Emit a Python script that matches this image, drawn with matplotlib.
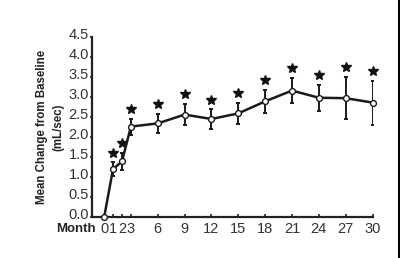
import matplotlib
matplotlib.use("Agg")
import matplotlib.pyplot as plt
import matplotlib.transforms as mtransforms
from matplotlib.lines import Line2D

plt.rcParams['font.family'] = ['Liberation Sans', 'DejaVu Sans']

# months and mean change from baseline (mL/sec) with error
months = [0, 1, 2, 3, 6, 9, 12, 15, 18, 21, 24, 27, 30]
mean_change = [0.0, 1.21, 1.40, 2.27, 2.35, 2.57, 2.46, 2.60, 2.90, 3.17, 2.99, 2.98, 2.87]
error = [0.0, 0.17, 0.22, 0.20, 0.23, 0.26, 0.24, 0.26, 0.28, 0.32, 0.33, 0.53, 0.55]
significant = [False] + [True] * 12
y_ticks = [0.0, 0.5, 1.0, 1.5, 2.0, 2.5, 3.0, 3.5, 4.0, 4.5]

fig = plt.figure(figsize=(4.0, 2.58), dpi=100)
ax = fig.add_axes([0.23, 0.157, 0.7025, 0.6984])

ax.errorbar(months[1:], mean_change[1:], yerr=error[1:], fmt='none',
            ecolor='#1a1a1a', elinewidth=1.4, capsize=1.6, capthick=1.4, zorder=2)
ax.plot(months, mean_change, color='#1a1a1a', lw=1.8, marker='o', ms=4.2,
        mfc='white', mec='#1a1a1a', mew=1.0, zorder=3, clip_on=False)

# stars above the upper error bar
star_tr = mtransforms.offset_copy(ax.transData, fig=fig, x=0, y=7, units='points')
sx = [m for m, s in zip(months, significant) if s]
sy = [v + e for v, e, s in zip(mean_change, error, significant) if s]
ax.plot(sx, sy, ls='none', marker='*', ms=7, color='#111111', transform=star_tr,
        clip_on=False)

ax.set_xlim(-1.35, 30.05)
ax.set_ylim(0, 4.5)
ax.set_xticks(months)
ax.set_xticklabels([str(m) for m in months])
ax.set_yticks(y_ticks)
ax.set_yticklabels([f"{t:.1f}" for t in y_ticks])

for side in ['top', 'right']:
    ax.spines[side].set_visible(False)
for side in ['left', 'bottom']:
    ax.spines[side].set_linewidth(1.6)
    ax.spines[side].set_color('#222222')

ax.tick_params(axis='y', direction='out', length=1.5, width=1.2, pad=0.8,
               labelsize=10.5, labelcolor='#333333', color='#222222')
ax.tick_params(axis='x', direction='in', length=2.5, width=1.2, pad=3.2,
               labelsize=10.5, labelcolor='#333333', color='#222222')

# y tick labels sit a little above their ticks in the original
lift = mtransforms.ScaledTranslation(0, 3 / 72, fig.dpi_scale_trans)
for lab in ax.get_yticklabels():
    lab.set_transform(lab.get_transform() + lift)

ax.set_ylabel("Mean Change from Baseline\n(mL/sec)", fontsize=8.3,
              fontweight='bold', color='#222222', linespacing=1.5, labelpad=3)
fig.text(0.14, 0.114, "Month", fontsize=9.5, fontweight='bold',
         color='#222222', ha='left', va='center')

# dark strip along the right edge of the image
fig.add_artist(Line2D([0.9965, 0.9965], [0, 1], transform=fig.transFigure,
                      color='black', lw=1.5))

fig.savefig("out.png", dpi=100)
